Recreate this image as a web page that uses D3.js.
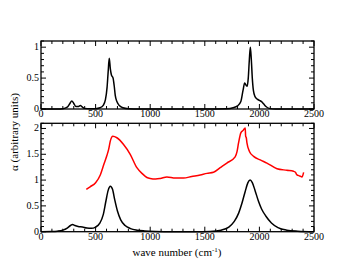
<!DOCTYPE html>
<html>
<head>
<meta charset="utf-8">
<script src="https://cdn.jsdelivr.net/npm/d3@7"></script>
<style>
  body { margin: 0; background: #fff; }
  text { font-family: "Liberation Serif", "DejaVu Serif", serif; fill: #000; }
</style>
</head>
<body>
<div id="chart"></div>
<script>
// data (x in cm^-1)
const topWave = [0,150,200,240,265,282,300,320,340,360,380,400,450,500,540,570,590,605,615,625,635,645,660,670,680,695,715,750,800,900,1500,1700,1760,1800,1830,1850,1865,1880,1888,1898,1908,1917,1926,1935,1945,1960,1980,2000,2020,2040,2060,2090,2150,2500]
const topAlpha = [0,0,0.005,0.03,0.09,0.13,0.09,0.04,0.04,0.055,0.03,0.01,0.003,0.005,0.02,0.06,0.15,0.35,0.6,0.82,0.65,0.55,0.5,0.38,0.22,0.12,0.06,0.02,0.005,0,0,0.005,0.02,0.05,0.12,0.3,0.42,0.38,0.37,0.5,0.8,1.0,0.8,0.5,0.3,0.2,0.16,0.14,0.12,0.08,0.04,0.01,0,0]

const botWave = [0,100,150,200,240,270,290,310,340,380,420,460,500,540,570,595,615,635,655,675,700,730,770,820,880,950,1050,1200,1400,1550,1650,1720,1770,1810,1840,1870,1895,1915,1935,1960,1990,2020,2060,2110,2170,2250,2350,2500]
const botBlack = [0,0.003,0.01,0.03,0.07,0.12,0.14,0.12,0.1,0.09,0.07,0.065,0.09,0.17,0.33,0.6,0.8,0.88,0.82,0.62,0.4,0.23,0.12,0.06,0.03,0.015,0.005,0,0,0.005,0.03,0.09,0.2,0.36,0.55,0.78,0.95,1.0,0.95,0.8,0.6,0.44,0.3,0.17,0.08,0.03,0.01,0]

const redWave = [415,450,500,543,575,604,620,635,658,695,756,817,878,930,970,1000,1050,1092,1153,1230,1305,1380,1458,1520,1580,1641,1702,1778,1795,1809,1831,1850,1870,1874,1880,1886,1910,1947,2008,2069,2161,2252,2313,2330,2344,2370,2390,2405]
const redAlpha = [0.82,0.87,0.95,1.1,1.3,1.48,1.6,1.76,1.85,1.82,1.69,1.5,1.24,1.12,1.05,1.03,1.02,1.03,1.06,1.04,1.04,1.07,1.1,1.13,1.15,1.24,1.33,1.45,1.55,1.72,1.92,1.96,2.01,1.85,1.82,1.72,1.55,1.46,1.39,1.33,1.22,1.19,1.17,1.15,1.1,1.08,1.06,1.15]

const xTicks = [0,500,1000,1500,2000,2500]
const topTicks = [0,0.5,1]
const botTicks = [0,0.5,1,1.5,2]

const width = 356, height = 273
const left = 41, right = 314

const svg = d3.select("#chart").append("svg")
  .attr("width", width)
  .attr("height", height)

const x = d3.scaleLinear().domain([0,2500]).range([left, right])

function panel(top, bottom, yMax, yTicks, series) {
  const y = d3.scaleLinear().domain([0, yMax]).range([bottom, top])
  const g = svg.append("g")

  // inward ticks on all sides
  const xMinor = d3.range(0, 2501, 100)
  const yMinor = d3.range(0, yMax + 1e-9, 0.1)
  const tick = (x1,y1,x2,y2) => g.append("line")
    .attr("x1",x1).attr("y1",y1).attr("x2",x2).attr("y2",y2)
    .attr("stroke","#000").attr("stroke-width",1)
  xMinor.forEach(v => {
    const major = v % 500 === 0
    const len = major ? 5 : 3
    tick(x(v), bottom, x(v), bottom - len)
    tick(x(v), top, x(v), top + len)
  })
  yMinor.forEach(v => {
    const major = Math.abs(v*2 - Math.round(v*2)) < 1e-6
    const len = major ? 5 : 3
    tick(left, y(v), left + len, y(v))
    tick(right, y(v), right - len, y(v))
  })

  // tick labels
  g.selectAll("text.xl").data(xTicks).join("text")
    .attr("class","xl")
    .attr("x", d => x(d)).attr("y", bottom + 8)
    .attr("text-anchor","middle")
    .attr("font-size", 10)
    .text(d => d)
  g.selectAll("text.yl").data(yTicks).join("text")
    .attr("class","yl")
    .attr("x", left - 2).attr("y", d => y(d) + 3)
    .attr("text-anchor","end")
    .attr("font-size", 10)
    .text(d => d)

  const line = d3.line().x(d => x(d[0])).y(d => y(d[1])).curve(d3.curveMonotoneX)
  series.forEach(s => {
    g.append("path")
      .datum(d3.zip(s.xs, s.ys))
      .attr("d", line)
      .attr("fill","none")
      .attr("stroke", s.color)
      .attr("stroke-width", 1.5)
  })

  g.append("rect")
    .attr("x", left).attr("y", top)
    .attr("width", right - left).attr("height", bottom - top)
    .attr("fill","none").attr("stroke","#000").attr("stroke-width",1.3)
}

panel(41, 109, 1.1, topTicks, [{xs: topWave, ys: topAlpha, color: "#000"}])
panel(123.3, 231.7, 2.1, botTicks, [
  {xs: redWave, ys: redAlpha, color: "#ff0000"},
  {xs: botWave, ys: botBlack, color: "#000"}
])

svg.append("text")
  .attr("transform","translate(18,132) rotate(-90)")
  .attr("text-anchor","middle")
  .attr("font-size", 11)
  .text("α (arbitrary units)")

const xl = svg.append("text")
  .attr("x", 177).attr("y", 256)
  .attr("text-anchor","middle")
  .attr("font-size", 11)
xl.append("tspan").text("wave number (cm")
xl.append("tspan").attr("font-size", 7).attr("dy", -4).text("-1")
xl.append("tspan").attr("dy", 4).text(")")
</script>
</body>
</html>
